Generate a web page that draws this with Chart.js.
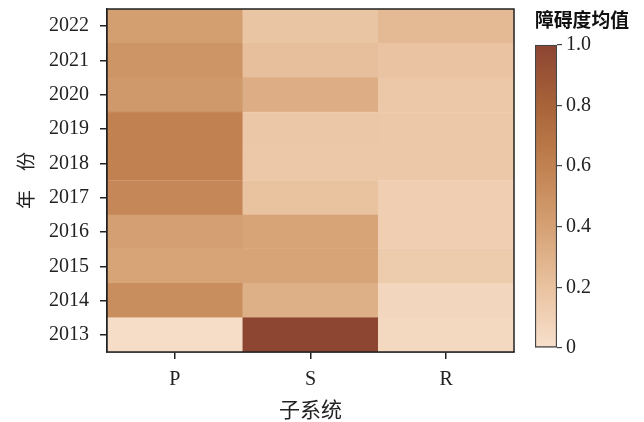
<!DOCTYPE html>
<html>
<head>
<meta charset="utf-8">
<script src="https://cdn.jsdelivr.net/npm/chart.js@4/dist/chart.umd.min.js"></script>
<style>
  html, body { margin: 0; padding: 0; background: #fff; }
  #wrap { position: relative; width: 644px; height: 422px; }
  #heat { position: absolute; left: 0; top: 0; }
  #bar { position: absolute; left: 520px; top: 0; }
</style>
</head>
<body>
<div id="wrap">
  <canvas id="heat" width="644" height="422"></canvas>
  <canvas id="bar" width="124" height="422"></canvas>
</div>
<script>
// 年份 (bottom to top) and 子系统
const years = ['2013', '2014', '2015', '2016', '2017', '2018', '2019', '2020', '2021', '2022'];
const subsystems = ['P', 'S', 'R'];

// 障碍度均值, one array per subsystem, same order as years
const valuesP = [0.02, 0.52, 0.38, 0.41, 0.56, 0.60, 0.60, 0.45, 0.48, 0.42];
const valuesS = [0.99, 0.31, 0.38, 0.38, 0.20, 0.16, 0.17, 0.32, 0.22, 0.18];
const valuesR = [0.05, 0.07, 0.14, 0.12, 0.12, 0.16, 0.16, 0.16, 0.19, 0.25];

// colour bar ticks
const barTicks = [0, 0.2, 0.4, 0.6, 0.8, 1.0];

// colour map stops, value -> rgb
const cmapStops = [
    [0.0, [247, 224, 204]],
    [0.2, [233, 194, 160]],
    [0.4, [213, 161, 116]],
    [0.6, [193, 129, 80]],
    [0.8, [168, 99, 56]],
    [1.0, [140, 68, 50]]
];

function cmap(v) {
    v = Math.max(0, Math.min(1, v));
    for (let i = 1; i < cmapStops.length; i++) {
        const [v1, c1] = cmapStops[i];
        const [v0, c0] = cmapStops[i - 1];
        if (v <= v1) {
            const t = (v - v0) / (v1 - v0);
            const c = c0.map((a, k) => Math.round(a + (c1[k] - a) * t));
            return `rgb(${c[0]},${c[1]},${c[2]})`;
        }
    }
    return 'rgb(140,68,50)';
}

const serif = '"Liberation Serif", "Times New Roman", serif';
const cjk = '"Noto Sans CJK SC", sans-serif';
const ink = '#222';

// frame round the plot area
const framePlugin = {
    id: 'frame',
    afterDraw(chart) {
        const { ctx, chartArea: a } = chart;
        ctx.save();
        ctx.strokeStyle = ink;
        ctx.lineWidth = 1.5;
        ctx.strokeRect(a.left, a.top, a.right - a.left, a.bottom - a.top);
        ctx.restore();
    }
};

// one stacked dataset per year, each cell is one unit high
const cols = [valuesP, valuesS, valuesR];
const heatDatasets = years.map((y, i) => ({
    label: y,
    data: subsystems.map(() => 1),
    backgroundColor: cols.map(arr => cmap(arr[i])),
    borderColor: cols.map(arr => cmap(arr[i])),
    borderWidth: 0.6,
    borderSkipped: false,
    barPercentage: 1,
    categoryPercentage: 1
}));

new Chart(document.getElementById('heat'), {
    type: 'bar',
    data: { labels: subsystems, datasets: heatDatasets },
    options: {
        responsive: false,
        animation: false,
        layout: { padding: { left: 0, right: 130, top: 9, bottom: 0 } },
        plugins: { legend: { display: false }, tooltip: { enabled: false } },
        scales: {
            x: {
                stacked: true,
                offset: true,
                afterFit: (s) => { s.height = 70; s.paddingLeft = 0; s.paddingRight = 0; },
                grid: { offset: false, drawOnChartArea: false, drawTicks: true, tickLength: 7, color: ink, lineWidth: 1.5 },
                border: { display: true, color: ink, width: 1.5 },
                ticks: { color: ink, padding: 9, font: { family: serif, size: 20 } },
                title: { display: true, text: '子系统', color: ink, padding: { top: 0, bottom: 0 }, font: { family: cjk, size: 21 } }
            },
            y: {
                stacked: true,
                min: 0,
                max: years.length,
                afterFit: (s) => { s.width = 107; s.paddingTop = 0; s.paddingBottom = 0; },
                afterBuildTicks: (s) => { s.ticks = years.map((y, i) => ({ value: i + 0.5 })); },
                grid: { drawOnChartArea: false, drawTicks: true, tickLength: 7, color: ink, lineWidth: 1.5 },
                border: { display: true, color: ink, width: 1.5 },
                ticks: {
                    color: ink,
                    padding: 11,
                    autoSkip: false,
                    font: { family: serif, size: 20 },
                    callback: (v) => years[Math.floor(v)]
                },
                title: { display: true, text: '年　份', color: ink, padding: { top: 14, bottom: 0 }, font: { family: cjk, size: 19 } }
            }
        }
    },
    plugins: [framePlugin]
});

// colour bar: one floating bar from 0 to 1 filled with the colour map
new Chart(document.getElementById('bar'), {
    type: 'bar',
    data: {
        labels: [''],
        datasets: [{
            data: [[barTicks[0], barTicks[barTicks.length - 1]]],
            backgroundColor: (c) => {
                const a = c.chart.chartArea;
                if (!a) return cmap(0.5);
                const g = c.chart.ctx.createLinearGradient(0, a.bottom, 0, a.top);
                for (let i = 0; i <= 20; i++) g.addColorStop(i / 20, cmap(i / 20));
                return g;
            },
            borderColor: '#444',
            borderWidth: 1.5,
            borderSkipped: false,
            barPercentage: 1,
            categoryPercentage: 1
        }]
    },
    options: {
        responsive: false,
        animation: false,
        layout: { padding: { left: 15, right: 15, top: 0, bottom: 74 } },
        plugins: {
            legend: { display: false },
            tooltip: { enabled: false },
            title: {
                display: true,
                text: '障碍度均值',
                color: '#111',
                padding: { top: 8, bottom: 14 },
                font: { family: cjk, size: 19, weight: 'bold' }
            }
        },
        scales: {
            x: { display: false },
            y: {
                position: 'right',
                min: 0,
                max: 1,
                afterFit: (s) => { s.width = 72; },
                afterBuildTicks: (s) => { s.ticks = barTicks.map(v => ({ value: v })); },
                grid: { drawOnChartArea: false, drawTicks: true, tickLength: 5, color: '#444', lineWidth: 1.2 },
                border: { display: false },
                ticks: {
                    color: ink,
                    padding: 4,
                    font: { family: serif, size: 20 },
                    callback: (v) => v === 0 ? '0' : v.toFixed(1)
                }
            }
        }
    }
});
</script>
</body>
</html>
